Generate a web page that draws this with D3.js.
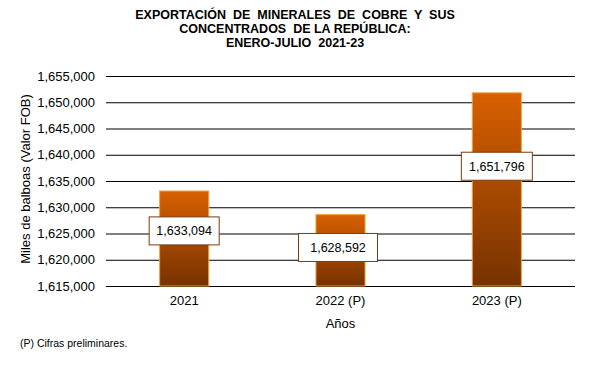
<!DOCTYPE html>
<html><head><meta charset="utf-8">
<script src="https://cdn.jsdelivr.net/npm/d3@7"></script>
<style>body{margin:0;background:#fff}svg{display:block;font-family:Arial,"Liberation Sans",sans-serif}</style>
</head><body><svg id="c" width="590" height="365"></svg>
<script>
const categories = ["2021", "2022 (P)", "2023 (P)"];
const values = [1633094, 1628592, 1651796];
const yTicks = [1615000, 1620000, 1625000, 1630000, 1635000, 1640000, 1645000, 1650000, 1655000];
const labelFrac = [0.42, 0.46, 0.38];
const labelBoxW = [70, 79, 71];
const titleLines = ["EXPORTACIÓN  DE  MINERALES  DE  COBRE  Y  SUS", "CONCENTRADOS  DE LA REPÚBLICA:", "ENERO-JULIO  2021-23"];

const svg = d3.select("#c");
const m = {l:106, r:575, t:76, b:286};
const x = d3.scaleBand().domain(categories).range([m.l, m.r]).paddingInner(0.686).paddingOuter(0.343);
const y = d3.scaleLinear().domain([1615000, 1655000]).range([m.b, m.t]);
const fmt = d3.format(",");

const defs = svg.append("defs");
const g = defs.append("linearGradient").attr("id","bg").attr("x1",0).attr("y1",0).attr("x2",0).attr("y2",1);
g.append("stop").attr("offset","0%").attr("stop-color","#d86000");
g.append("stop").attr("offset","100%").attr("stop-color","#763200");

svg.append("g").selectAll("text").data(titleLines).join("text")
  .attr("x", 295).attr("y", (d,i)=>19+i*14).attr("text-anchor","middle")
  .attr("font-size",12.5).attr("font-weight","bold").style("white-space","pre").text(d=>d);

// grid
const yAxis = d3.axisLeft(y).tickValues(yTicks).tickFormat(fmt).tickSize(-(m.r-m.l)).tickPadding(11);
const ga = svg.append("g").attr("transform",`translate(${m.l},0)`).call(yAxis);
ga.select(".domain").remove();
ga.selectAll(".tick line").attr("stroke","#000").attr("stroke-width",1);
ga.selectAll(".tick text").attr("font-size",13).attr("fill","#000").attr("font-family","Arial, 'Liberation Sans', sans-serif");

// bars
svg.append("g").selectAll("rect").data(values).join("rect")
  .attr("x",(d,i)=>x(categories[i])).attr("width",x.bandwidth())
  .attr("y",d=>y(d)).attr("height",d=>y(1615000)-y(d))
  .attr("fill","url(#bg)").attr("stroke","#f5a040").attr("stroke-width",1);

// x labels
svg.append("g").selectAll("text").data(categories).join("text")
  .attr("x",d=>x(d)+x.bandwidth()/2).attr("y",305).attr("text-anchor","middle")
  .attr("font-size",13).text(d=>d);

// value labels
const lg = svg.append("g").selectAll("g").data(values).join("g")
  .attr("transform",(d,i)=>{
    const cy = y(d) + (y(1615000)-y(d))*labelFrac[i];
    return `translate(${x(categories[i])+x.bandwidth()/2 - (i===1?2.5:0)},${cy})`;
  });
lg.append("rect").attr("x",(d,i)=>-labelBoxW[i]/2).attr("y",-14).attr("width",(d,i)=>labelBoxW[i]).attr("height",28)
  .attr("fill","#fff").attr("stroke","#7a3c14").attr("stroke-width",1);
lg.append("text").attr("text-anchor","middle").attr("y",4.5).attr("font-size",12.5).text(d=>fmt(d));

svg.append("text").attr("x",m.l+(m.r-m.l)/2).attr("y",328).attr("text-anchor","middle").attr("font-size",13).text("Años");
svg.append("text").attr("transform","translate(30,179) rotate(-90)").attr("text-anchor","middle").attr("font-size",13).text("Miles de balboas  (Valor FOB)");
svg.append("text").attr("x",20).attr("y",347).attr("font-size",10.5).text("(P) Cifras preliminares.");
</script></body></html>
